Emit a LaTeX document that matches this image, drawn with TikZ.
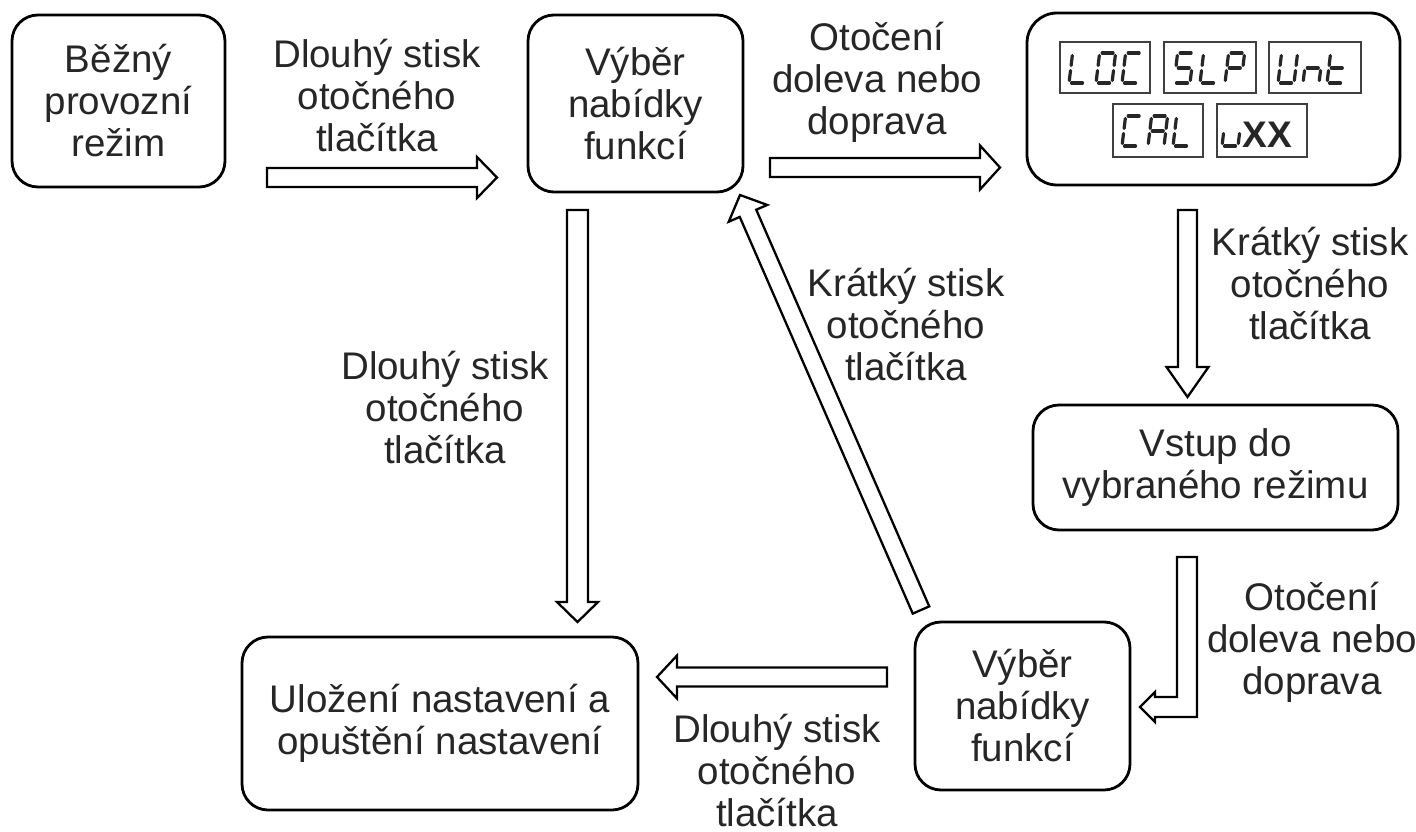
\documentclass[tikz,border=0pt]{standalone}
\usepackage{fontspec}
\setmainfont{Liberation Sans}
\usetikzlibrary{calc}
\definecolor{txt}{HTML}{262626}
\newcommand{\dgfont}{\fontsize{38.5}{42}\selectfont}
\tikzset{
  box/.style={draw=black, line width=2.8pt, rounded corners=26pt, align=center, font=\dgfont, text=txt, inner sep=0pt},
  lbl/.style={align=center, font=\dgfont, text=txt, inner sep=0pt},
  barrow/.style={draw=black, fill=white, line width=2.3pt, line join=miter},
  dispbox/.style={draw=black!75, line width=1.4pt, inner sep=0pt},
  segline/.style={line width=3.2pt, line cap=round, draw=txt},
}
\newcommand{\blockarrow}[5]{%
  \coordinate (H) at ($(#2)!#5!(#1)$);
  \draw[barrow] ($(#1)!#3!90:(#2)$) -- ($(H)!#3!90:(#2)$) -- ($(H)!#4!90:(#2)$) -- (#2)
    -- ($(H)!#4!-90:(#2)$) -- ($(H)!#3!-90:(#2)$) -- ($(#1)!#3!-90:(#2)$) -- cycle;}
\newcommand{\sevseg}[3]{\begin{scope}[shift={(#1,#2)}, x={(1pt,0pt)}, y={(0.12pt,1pt)}]#3\end{scope}}
\newcommand{\SgA}{\draw[segline] (2.5,30)--(13.5,30);}
\newcommand{\SgB}{\draw[segline] (16,27.5)--(16,17.5);}
\newcommand{\SgC}{\draw[segline] (16,12.5)--(16,2.5);}
\newcommand{\SgD}{\draw[segline] (2.5,0)--(13.5,0);}
\newcommand{\SgE}{\draw[segline] (0,2.5)--(0,12.5);}
\newcommand{\SgF}{\draw[segline] (0,17.5)--(0,27.5);}
\newcommand{\SgG}{\draw[segline] (2.5,15)--(13.5,15);}
\begin{document}
\begin{tikzpicture}[x=1pt, y=-1pt]
\useasboundingbox (0,0) rectangle (1416,832);
\fill[white] (0,0) rectangle (1416,832);

% boxes
\node[box, minimum width=213pt, minimum height=172pt] (n1) at (118.5,101) {Běžný\\provozní\\režim};
\node[box, minimum width=215pt, minimum height=177pt] (n2) at (635.5,103.5) {Výběr\\nabídky\\funkcí};
\node[draw=black, line width=2.8pt, rounded corners=30pt, minimum width=373pt, minimum height=172pt, inner sep=0pt] (n3) at (1213.5,99) {};
\node[box, minimum width=365pt, minimum height=125pt] (n4) at (1215.5,467.5) {Vstup do\\vybraného režimu};
\node[box, minimum width=215pt, minimum height=168pt] (n5) at (1022.5,706) {Výběr\\nabídky\\funkcí};
\node[box, minimum width=396pt, minimum height=173pt] (n6) at (440,723.5) {Uložení nastavení a\\opuštění nastavení};

% display contents
\node[dispbox, minimum width=90pt, minimum height=51pt] (d1) at (1105,67.5) {};
\node[dispbox, minimum width=92pt, minimum height=51pt] (d2) at (1210,67.5) {};
\node[dispbox, minimum width=92pt, minimum height=51pt] (d3) at (1315,67.5) {};
\node[dispbox, minimum width=90pt, minimum height=53pt] (d4) at (1158,130.5) {};
\node[dispbox, minimum width=90pt, minimum height=53pt] (d5) at (1262,130.5) {};
\sevseg{1069}{83}{\SgD\SgE\SgF}
\sevseg{1096}{83}{\SgA\SgB\SgC\SgD\SgE\SgF}
\sevseg{1122}{83}{\SgA\SgD\SgE\SgF}
\sevseg{1174}{83}{\SgA\SgF\SgG\SgC\SgD}
\sevseg{1200}{83}{\SgD\SgE\SgF}
\sevseg{1225}{83}{\SgA\SgB\SgE\SgF\SgG}
\sevseg{1278}{83}{\SgB\SgC\SgD\SgE\SgF}
\sevseg{1303}{83}{\SgC\SgE\SgG}
\sevseg{1327}{83}{\SgD\SgE\SgF\SgG}
\sevseg{1122}{146}{\SgA\SgD\SgE\SgF}
\sevseg{1148}{146}{\SgA\SgB\SgC\SgE\SgF\SgG}
\sevseg{1173}{146}{\SgD\SgE\SgF}
\sevseg{1222}{146}{\SgC\SgD\SgE}
\node[text=txt, font=\fontsize{37}{40}\selectfont\bfseries, inner sep=0pt] (xx) at (1267,135) {XX};

% labels
\node[lbl] (l1) at (377,96) {Dlouhý stisk\\otočného\\tlačítka};
\node[lbl] (l2) at (877,82) {Otočení\\doleva nebo\\doprava};
\node[lbl] (l3) at (1310,284) {Krátký stisk\\otočného\\tlačítka};
\node[lbl] (l4) at (445,408) {Dlouhý stisk\\otočného\\tlačítka};
\node[lbl] (l5) at (906,325) {Krátký stisk\\otočného\\tlačítka};
\node[lbl] (l6) at (1312,642) {Otočení\\doleva nebo\\doprava};
\node[lbl] (l7) at (777,771) {Dlouhý stisk\\otočného\\tlačítka};

% arrow end points
\coordinate (a1s) at (267,177.5);  \coordinate (a1e) at (497,177.5);
\coordinate (a2s) at (770,167.5);  \coordinate (a2e) at (1000,167.5);
\coordinate (a3s) at (1187.5,210); \coordinate (a3e) at (1187.5,397);
\coordinate (a5s) at (921,610);    \coordinate (a5e) at (740,195);
\coordinate (a6s) at (577.5,210);  \coordinate (a6e) at (577.5,622);
\coordinate (a7s) at (887,677);    \coordinate (a7e) at (657,677);
\coordinate (a4s) at (1187,557);   \coordinate (a4e) at (1140,707);

\blockarrow{a1s}{a1e}{9.5pt}{20.5pt}{20pt}
\blockarrow{a2s}{a2e}{9.5pt}{22pt}{20pt}
\blockarrow{a3s}{a3e}{9.5pt}{21pt}{30pt}
\blockarrow{a5s}{a5e}{9pt}{21pt}{20pt}
\blockarrow{a6s}{a6e}{10.5pt}{20.5pt}{20pt}
\blockarrow{a7s}{a7e}{9.5pt}{21.5pt}{20pt}
\draw[barrow] ($(a4s)+(-10,0)$) -- ($(a4s)+(10,0)$) -- ($(a4s |- a4e)+(10,10)$) -- ($(a4e)+(15,10)$)
  -- ($(a4e)+(15,15)$) -- (a4e) -- ($(a4e)+(15,-15)$) -- ($(a4e)+(15,-10)$)
  -- ($(a4s |- a4e)+(-10,-10)$) -- cycle;
\end{tikzpicture}
\end{document}
